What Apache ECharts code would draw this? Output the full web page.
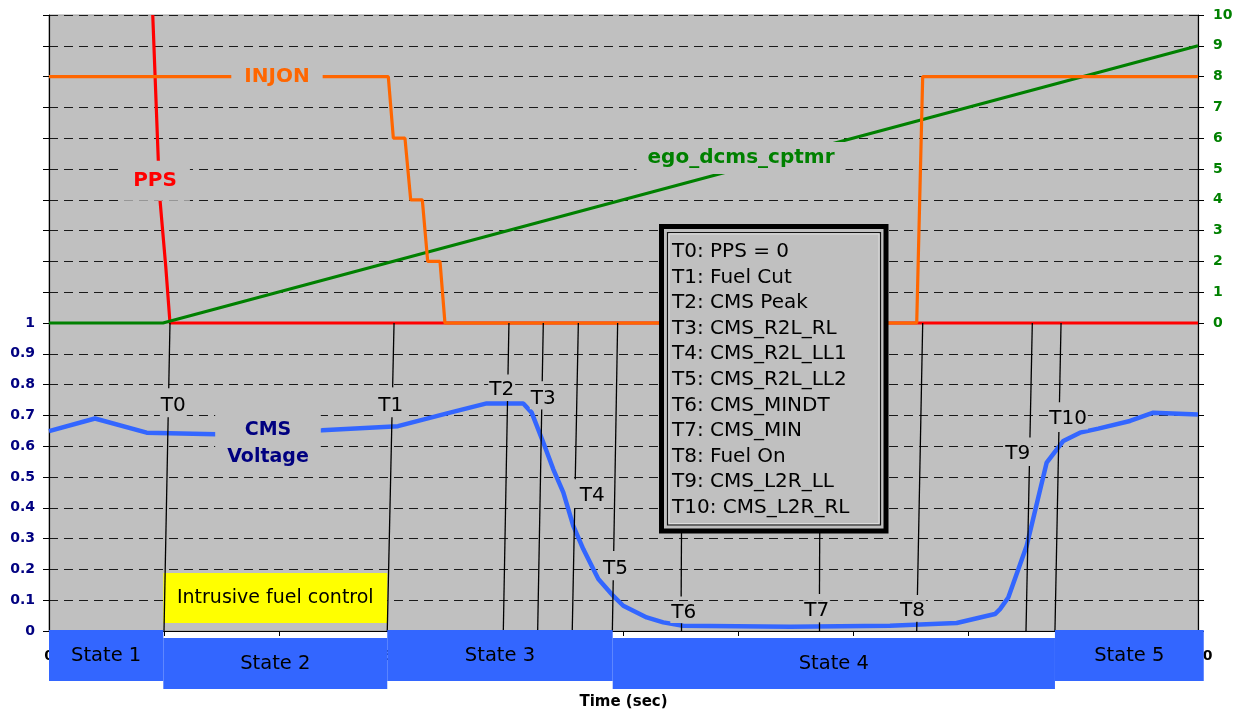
<!DOCTYPE html>
<html>
<head>
<meta charset="utf-8">
<script src="https://cdn.jsdelivr.net/npm/echarts@6/dist/echarts.min.js"></script>
<style>
html,body{margin:0;padding:0;background:#fff;}
#c{width:1244px;height:715px;}
</style>
</head>
<body>
<div id="c"></div>
<script>
// ---- data (time in sec on 0..100 scale) ----
const ppsT   = [9.03, 9.51, 9.66, 10.16, 10.53, 100];
const ppsV   = [10, 5.30, 4.00, 1.84, 0, 0];
const injonT = [0, 29.53, 29.97, 30.98, 31.48, 32.49, 32.96, 34.03, 34.46, 75.52, 76.04, 100];
const injonV = [8, 8, 6, 6, 4, 4, 2, 2, 0, 0, 8, 8];
const egoT   = [0, 9.92, 100];
const egoV   = [0, 0, 9];
const cmsT = [0, 4.00, 8.50, 14.53, 23.76, 30.37, 34.90, 38.09, 41.28, 42.01, 43.02, 43.89, 44.76, 45.63, 46.50, 47.37, 47.81, 49.11, 49.98, 52.02, 53.46, 55.18, 64.49, 73.19, 79.00, 82.33, 82.77, 83.49, 85.09, 86.83, 88.28, 89.73, 91.32, 94.08, 96.11, 100];
const cmsV = [0.649, 0.690, 0.644, 0.639, 0.652, 0.665, 0.709, 0.739, 0.739, 0.709, 0.612, 0.525, 0.450, 0.341, 0.266, 0.201, 0.169, 0.114, 0.082, 0.044, 0.028, 0.017, 0.014, 0.017, 0.026, 0.055, 0.071, 0.109, 0.277, 0.547, 0.617, 0.644, 0.657, 0.682, 0.709, 0.703];

const markerNames = ['T0','T1','T2','T3','T4','T5','T6','T7','T8','T9','T10'];
const markerTopT  = [10.53, 30.03, 40.03, 43.02, 46.07, 49.49, 55.15, 67.16, 76.04, 85.58, 88.08];
const markerBotT  = [10.01, 29.44, 39.54, 42.53, 45.54, 49.03, 55.00, 67.04, 75.52, 85.03, 87.55];
const gapTopV     = [0.788, 0.791, 0.833, 0.811, 0.493, 0.260, 0.112, 0.120, 0.117, 0.628, 0.743];
const gapBotV     = [0.694, 0.694, 0.747, 0.720, 0.398, 0.165, 0.025, 0.028, 0.030, 0.536, 0.646];
const markerLabT  = [10.82, 29.75, 39.40, 43.02, 47.27, 49.30, 55.25, 66.81, 75.15, 84.32, 88.69];
const markerLabV  = [0.731, 0.731, 0.782, 0.754, 0.439, 0.203, 0.060, 0.066, 0.066, 0.576, 0.688];

const stateNames  = ['State 1','State 2','State 3','State 4','State 5'];
const stateBounds = [0, 9.95, 29.44, 49.06, 87.55, 100.5];
const fuelText = 'Intrusive fuel control';
const fuelV = [0.188, 0.026];

const legendNotes = ['T0: PPS = 0','T1: Fuel Cut','T2: CMS Peak','T3: CMS_R2L_RL','T4: CMS_R2L_LL1','T5: CMS_R2L_LL2','T6: CMS_MINDT','T7: CMS_MIN','T8: Fuel On','T9: CMS_L2R_LL','T10: CMS_L2R_RL'];

// series label anchors [t, value]
const ppsLabel   = [9.23, 4.62];
const injonLabel = [19.84, 8];
const egoLabel   = [60.23, 5.36];
const cmsLabel   = [19.06, 0.610];

const leftTicks  = {min: 0, max: 2, interval: 0.1};
const rightTicks = {min: -10, max: 10, interval: 1};

// ---- build ----
const zip = (a, b) => a.map((v, i) => [v, b[i]]);
const FONT = '"DejaVu Sans"';
const GRAY = '#C0C0C0';

const markLines = [];
markerNames.forEach((n, i) => {
  const tAt = v => markerBotT[i] + (markerTopT[i] - markerBotT[i]) * v;
  markLines.push([{coord: [markerTopT[i], 1]}, {coord: [tAt(gapTopV[i]), gapTopV[i]]}]);
  markLines.push([{coord: [tAt(gapBotV[i]), gapBotV[i]]}, {coord: [markerBotT[i], 0]}]);
});
const markLabels = markerNames.map((n, i) => ({name: n, coord: [markerLabT[i], markerLabV[i]]}));

function seriesLabel(name, coord, color, size, pad, lh) {
  return {
    symbol: 'rect', symbolSize: 1, silent: true,
    itemStyle: {color: 'rgba(0,0,0,0)'},
    label: {show: true, position: 'inside', formatter: '{b}', color: color, fontFamily: FONT,
            fontWeight: 'bold', fontSize: size, backgroundColor: GRAY, padding: pad, lineHeight: lh},
    data: [{name: name, coord: coord}]
  };
}

const option = {
  animation: false,
  backgroundColor: '#fff',
  grid: {left: 49, right: 46, top: 15, bottom: 83, show: true, backgroundColor: GRAY, borderColor: '#9a9a9a', borderWidth: 1},
  xAxis: {
    type: 'value', min: 0, max: 100, interval: 10,
    axisLine: {show: true, onZero: false, lineStyle: {color: '#000', width: 1}},
    axisTick: {show: true, length: 5, lineStyle: {color: '#000'}},
    axisLabel: {color: '#000', fontFamily: FONT, fontWeight: 'bold', fontSize: 14, margin: 18},
    splitLine: {show: false},
    name: 'Time (sec)', nameLocation: 'middle', nameGap: 64,
    nameTextStyle: {color: '#000', fontFamily: FONT, fontWeight: 'bold', fontSize: 15}
  },
  yAxis: [
    {
      type: 'value', position: 'left', min: leftTicks.min, max: leftTicks.max, interval: leftTicks.interval,
      axisLine: {show: true, onZero: false, lineStyle: {color: '#000', width: 1.2}},
      axisTick: {show: true, length: 6, lineStyle: {color: '#000'}},
      axisLabel: {color: '#000080', fontFamily: FONT, fontWeight: 'bold', fontSize: 14, margin: 14,
                  formatter: v => v <= 1.00001 ? String(Math.round(v * 10) / 10) : ''},
      splitLine: {show: true, lineStyle: {color: '#1a1a1a', width: 1, type: [9, 6]}}
    },
    {
      type: 'value', position: 'right', min: rightTicks.min, max: rightTicks.max, interval: rightTicks.interval,
      axisLine: {show: true, onZero: false, lineStyle: {color: '#000', width: 1.2}},
      axisTick: {show: true, length: 6, lineStyle: {color: '#000'}},
      axisLabel: {color: '#008000', fontFamily: FONT, fontWeight: 'bold', fontSize: 14, margin: 15,
                  formatter: v => v >= 0 ? String(v) : ''},
      splitLine: {show: false}
    }
  ],
  series: [
    {
      name: 'PPS', type: 'line', yAxisIndex: 1, data: zip(ppsT, ppsV), showSymbol: false, symbol: 'none',
      lineStyle: {color: '#FF0000', width: 3.2}, z: 2,
      markPoint: seriesLabel('PPS', ppsLabel, '#FF0000', 20, [9, 13], 22)
    },
    {
      name: 'ego_dcms_cptmr', type: 'line', yAxisIndex: 1, data: zip(egoT, egoV), showSymbol: false, symbol: 'none',
      lineStyle: {color: '#008000', width: 3.2}, z: 3,
      markPoint: seriesLabel('ego_dcms_cptmr', egoLabel, '#008000', 20, [6, 11], 20)
    },
    {
      name: 'INJON', type: 'line', yAxisIndex: 1, data: zip(injonT, injonV), showSymbol: false, symbol: 'none',
      lineStyle: {color: '#FF6600', width: 3.2}, z: 4,
      markPoint: seriesLabel('INJON', injonLabel, '#FF6600', 20, [4, 13], 22)
    },
    {
      name: 'CMS Voltage', type: 'line', yAxisIndex: 0, data: zip(cmsT, cmsV), showSymbol: false, symbol: 'none',
      lineStyle: {color: '#3366FF', width: 4.5}, z: 4,
      markPoint: seriesLabel('CMS\nVoltage', cmsLabel, '#000080', 19, [2, 12], 27)
    },
    {
      name: 'markers', type: 'line', yAxisIndex: 0, data: [], silent: true,
      markLine: {
        silent: true, symbol: ['none', 'none'], animation: false,
        lineStyle: {color: '#000', width: 1.3, type: 'solid'},
        label: {show: false}, emphasis: {disabled: true},
        data: markLines
      },
      markPoint: {
        silent: true, symbol: 'rect', symbolSize: 1, itemStyle: {color: 'rgba(0,0,0,0)'},
        label: {show: true, position: 'inside', formatter: '{b}', color: '#000', fontFamily: FONT,
                fontSize: 20, backgroundColor: GRAY, padding: [0, 1], lineHeight: 21},
        data: markLabels
      },
      markArea: {
        silent: true,
        itemStyle: {color: '#FFFF00', opacity: 1},
        label: {show: true, position: 'inside', formatter: '{b}', color: '#000', fontFamily: FONT, fontSize: 19},
        data: [[{name: fuelText, coord: [stateBounds[1], fuelV[0]]}, {coord: [stateBounds[2], fuelV[1]]}]]
      }
    }
  ]
};

const chart = echarts.init(document.getElementById('c'), null, {renderer: 'canvas'});
chart.setOption(option);

const px = v => chart.convertToPixel({xAxisIndex: 0}, v);
const graphics = [];
stateNames.forEach((n, i) => {
  const x0 = px(stateBounds[i]), x1 = px(stateBounds[i + 1]);
  const y0 = (i % 2 === 0) ? 630 : 638;
  graphics.push({type: 'rect', z: 100, shape: {x: x0, y: y0, width: x1 - x0, height: 51}, style: {fill: '#3366FF'}});
  graphics.push({type: 'text', z: 101, style: {text: n, x: (x0 + x1) / 2, y: y0 + 25.5, fill: '#000',
    font: '19.5px ' + FONT, align: 'center', verticalAlign: 'middle'}});
});
// text box with definitions
graphics.push({type: 'rect', z: 100, shape: {x: 661.5, y: 226.5, width: 224.5, height: 304.5},
  style: {fill: GRAY, stroke: '#000', lineWidth: 5}});
graphics.push({type: 'rect', z: 101, shape: {x: 667.5, y: 232.5, width: 213, height: 292.5},
  style: {fill: 'none', stroke: '#111', lineWidth: 1.2}});
graphics.push({type: 'rect', z: 101, shape: {x: 669, y: 234, width: 210, height: 289.5},
  style: {fill: 'none', stroke: '#dedede', lineWidth: 1}});
graphics.push({type: 'text', z: 102, style: {text: legendNotes.join('\n'), x: 672, y: 239, fill: '#000',
  font: '20px ' + FONT, lineHeight: 25.6, align: 'left', verticalAlign: 'top'}});
chart.setOption({graphic: graphics});
</script>
</body>
</html>
